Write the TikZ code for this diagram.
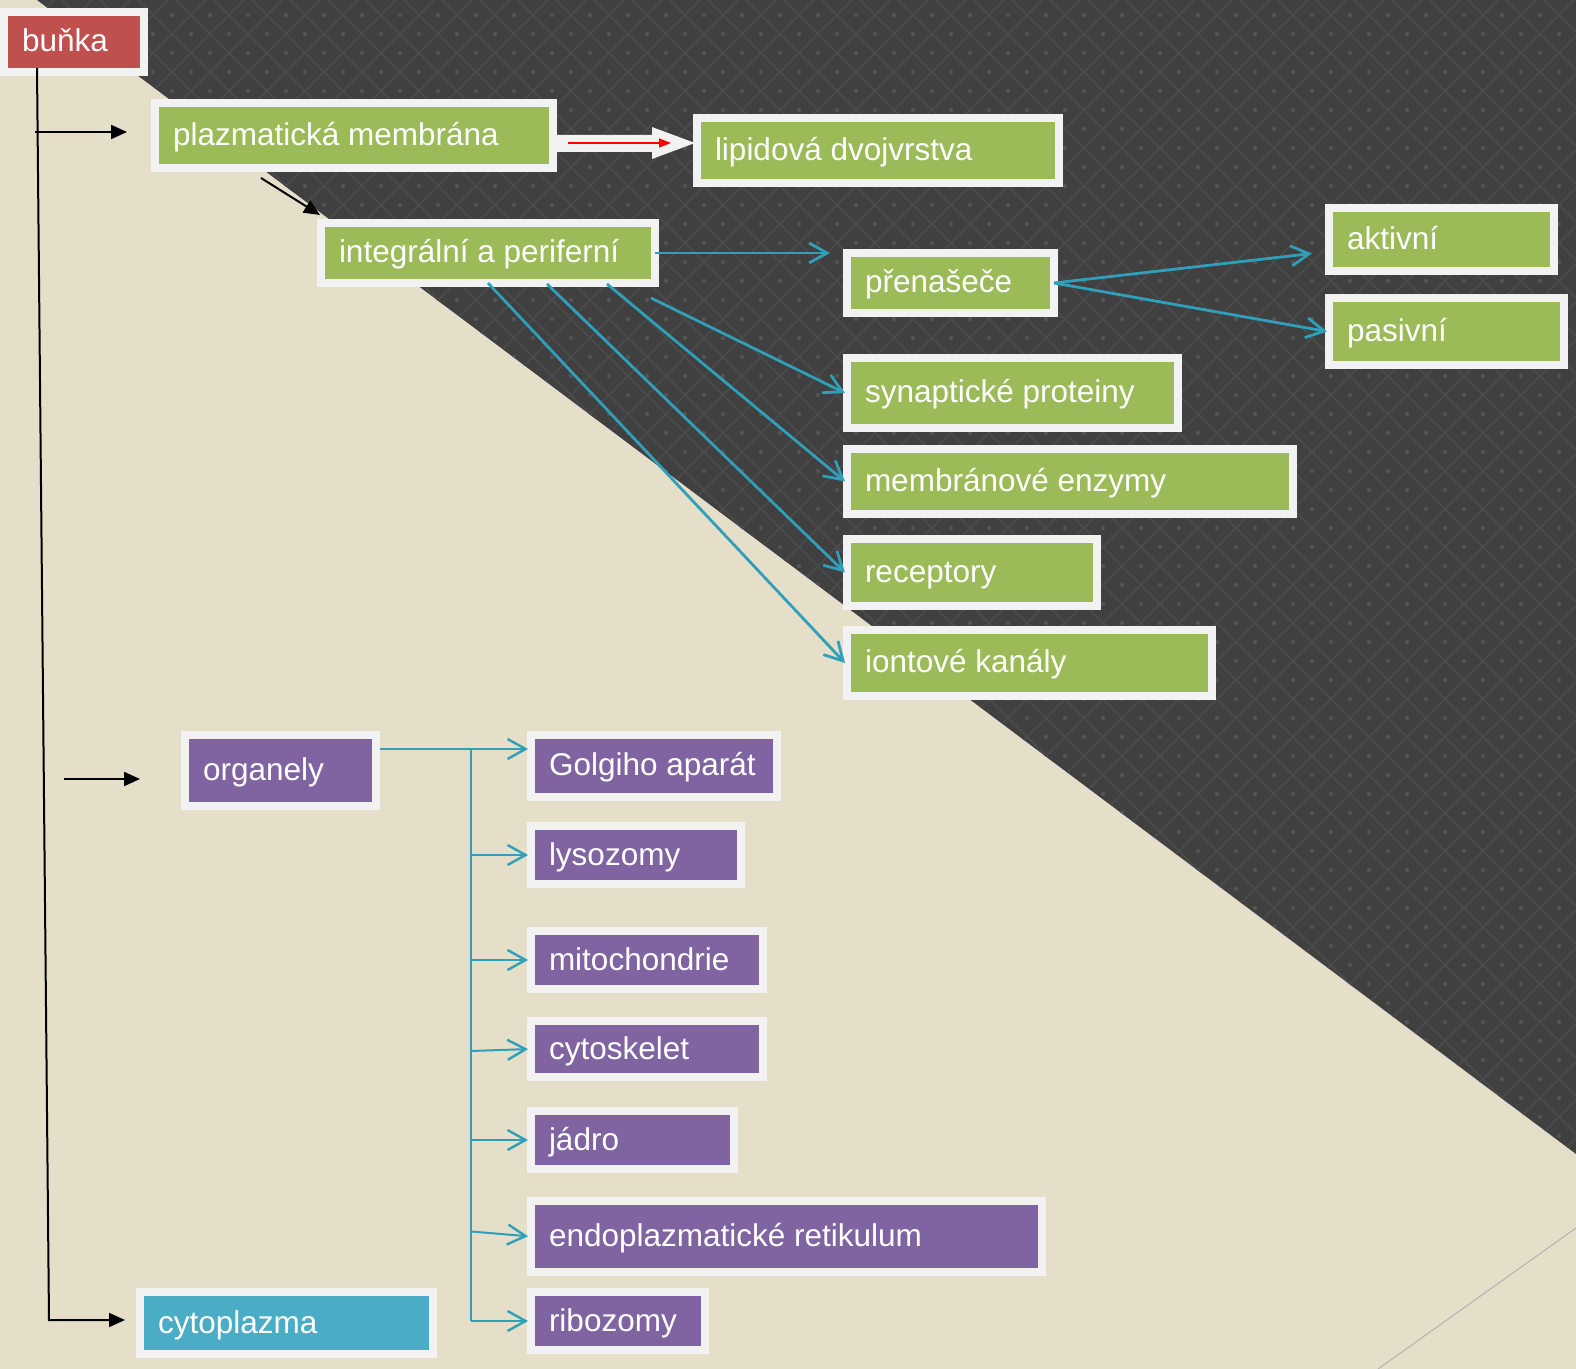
\documentclass[tikz,border=0pt]{standalone}
\usepackage{fontspec}
\setmainfont{Liberation Sans}
\usetikzlibrary{arrows.meta,calc}
\definecolor{cbeige}{HTML}{E5DEC9}
\definecolor{cdark}{HTML}{404040}
\definecolor{cpat}{HTML}{4B4B4B}
\definecolor{cdot}{HTML}{535353}
\definecolor{cred}{HTML}{C0504D}
\definecolor{cgreen}{HTML}{9BBB59}
\definecolor{cpurple}{HTML}{8064A2}
\definecolor{cblue}{HTML}{4BACC6}
\definecolor{cborder}{HTML}{F2F2F2}
\definecolor{cteal}{HTML}{2F9FBA}
\definecolor{cthin}{HTML}{B8AFB2}
\begin{document}
\begin{tikzpicture}[x=0.5pt,y=-0.5pt,
  bx/.style={draw=cborder, line width=4pt, anchor=north west, outer sep=0pt,
    inner xsep=9pt, inner ysep=0pt, text=white,
    font=\fontsize{15.75}{18}\selectfont, text height=13pt, text depth=3pt},
  blk/.style={black, line width=1pt, -{Triangle[length=8pt,width=7pt]}},
  tl/.style={cteal, line width=1.4pt, -{Straight Barb[length=9pt,width=10pt,line width=1.4pt]}},
  tlo/.style={cteal, line width=1pt, -{Straight Barb[length=9pt,width=10pt,line width=1.2pt]}},
  pat/.style={cpat, line width=0.8pt}
]
\useasboundingbox (0,0) rectangle (1576,1369);
% background
\fill[cbeige] (0,0) rectangle (1576,1369);
\fill[cdark] (37,0) -- (1576,0) -- (1576,1154) -- cycle;
\begin{scope}
  \clip (37,0) -- (1576,0) -- (1576,1154) -- cycle;
  \foreach \k in {0,...,72} \draw[pat] ({16+38*\k},0) -- ++(-1400,1400);
  \foreach \k in {0,...,42} \draw[pat] ({24+38*\k},0) -- ++(1400,1400);
  \foreach \j in {0,...,61} \foreach \i in {0,...,41}
    \fill[cdot] ({20+38*\i+19*mod(\j,2)},{15+19*\j}) circle[radius=1.1pt];
\end{scope}
\draw[cthin, line width=0.5pt] (1378,1369) -- (1576,1228);

% nodes
\node[bx, fill=cred, minimum width=70pt, minimum height=30pt] (bunka) at (4,12) {\makebox[52pt][l]{buňka}};
\node[bx, fill=cgreen, minimum width=199pt, minimum height=32.5pt] (pm) at (155,103) {\makebox[181pt][l]{plazmatická membrána}};
\node[bx, fill=cgreen, minimum width=181pt, minimum height=32.5pt] (lip) at (697,118) {\makebox[163pt][l]{lipidová dvojvrstva}};
\node[bx, fill=cgreen, minimum width=167pt, minimum height=30pt] (ip) at (321,223) {\makebox[149pt][l]{integrální a periferní}};
\node[bx, fill=cgreen, minimum width=103.5pt, minimum height=30pt] (pren) at (847,253) {\makebox[85.5pt][l]{přenašeče}};
\node[bx, fill=cgreen, minimum width=112.5pt, minimum height=31.5pt] (akt) at (1329,208) {\makebox[94.5pt][l]{aktivní}};
\node[bx, fill=cgreen, minimum width=117.5pt, minimum height=33.5pt] (pas) at (1329,298) {\makebox[99.5pt][l]{pasivní}};
\node[bx, fill=cgreen, minimum width=165.5pt, minimum height=35pt] (syn) at (847,358) {\makebox[147.5pt][l]{synaptické proteiny}};
\node[bx, fill=cgreen, minimum width=223pt, minimum height=32.5pt] (enz) at (847,449) {\makebox[205pt][l]{membránové enzymy}};
\node[bx, fill=cgreen, minimum width=125pt, minimum height=33.5pt] (rec) at (847,539) {\makebox[107pt][l]{receptory}};
\node[bx, fill=cgreen, minimum width=182.5pt, minimum height=33pt] (ion) at (847,630) {\makebox[164.5pt][l]{iontové kanály}};
\node[bx, fill=cpurple, minimum width=95.5pt, minimum height=35.5pt] (org) at (185,735) {\makebox[77.5pt][l]{organely}};
\node[bx, fill=cpurple, minimum width=123pt, minimum height=31pt] (gol) at (531,735) {\makebox[105pt][l]{Golgiho aparát}};
\node[bx, fill=cpurple, minimum width=105pt, minimum height=29pt] (lys) at (531,826) {\makebox[87pt][l]{lysozomy}};
\node[bx, fill=cpurple, minimum width=116pt, minimum height=29pt] (mit) at (531,931) {\makebox[98pt][l]{mitochondrie}};
\node[bx, fill=cpurple, minimum width=116pt, minimum height=28pt] (cyt) at (531,1021) {\makebox[98pt][l]{cytoskelet}};
\node[bx, fill=cpurple, minimum width=101.5pt, minimum height=29pt] (jad) at (531,1111) {\makebox[83.5pt][l]{jádro}};
\node[bx, fill=cpurple, minimum width=255.5pt, minimum height=35.5pt] (er) at (531,1201) {\makebox[237.5pt][l]{endoplazmatické retikulum}};
\node[bx, fill=cpurple, minimum width=87pt, minimum height=29pt] (rib) at (531,1292) {\makebox[69pt][l]{ribozomy}};
\node[bx, fill=cblue, minimum width=146.5pt, minimum height=31pt] (cp) at (140,1292) {\makebox[128.5pt][l]{cytoplazma}};

% black connectors
\draw[blk] ($(bunka.south west)+(33,-4)$) -- (49,1320) -- ($(cp.west)+(-15,-3)$);
\coordinate (t1) at (35,132);
\draw[blk] (t1) -- ($(pm.west |- t1)+(-28,0)$);
\coordinate (t2) at (64,779);
\draw[blk] (t2) -- ($(org.west |- t2)+(-45,0)$);
\draw[blk] ($(pm.south west)+(106,10)$) -- ($(ip.north west)+(-1,-8)$);

% block arrow plazmaticka -> lipidova
\fill[cborder] ($(pm.east)+(0,-0.5)$) -- (652,135) -- (652,127) -- (695,143) -- (652,159) -- (652,152) -- ($(pm.east)+(0,16.5)$) -- cycle;
\draw[red, line width=0.8pt, -{Triangle[length=6pt,width=4.5pt]}] ($(pm.east)+(15,7.5)$) -- ($(lip.west)+(-26,-7.5)$);

% teal connectors
\draw[tl] (ip.east) -- ($(pren.north west)+(-17,0)$);
\draw[tl] (pren.east) -- ($(akt.west)+(-17,14)$);
\draw[tl] (pren.east) -- ($(pas.west)+(-2,0)$);
\draw[tl] ($(ip.south east)+(-4,15)$) -- ($(syn.west)+(-2,0)$);
\draw[tl] ($(ip.south)+(119,1)$) -- ($(enz.west)+(-2,0)$);
\draw[tl] ($(ip.south)+(59,1)$) -- ($(rec.west)+(-2,0)$);
\draw[tl] (ip.south) -- ($(ion.west)+(-2,0)$);

% organely tree
\coordinate (tr0) at (471,749);
\coordinate (tr1) at (471,1321);
\draw[tlo] ($(org.north east)+(4,14)$) -- (tr0) -- ($(gol.north west)+(-3,14)$);
\draw[cteal, line width=1pt] (tr0) -- (tr1);
\foreach \n in {lys,mit,jad,rib} \draw[tlo, shorten >=1.5pt] (\n.west -| tr0) -- (\n.west);
\draw[tlo, shorten >=1.5pt] ($(cyt.west -| tr0)+(0,2)$) -- (cyt.west);
\draw[tlo, shorten >=1.5pt] ($(er.west -| tr0)+(0,-5)$) -- (er.west);
\end{tikzpicture}
\end{document}
